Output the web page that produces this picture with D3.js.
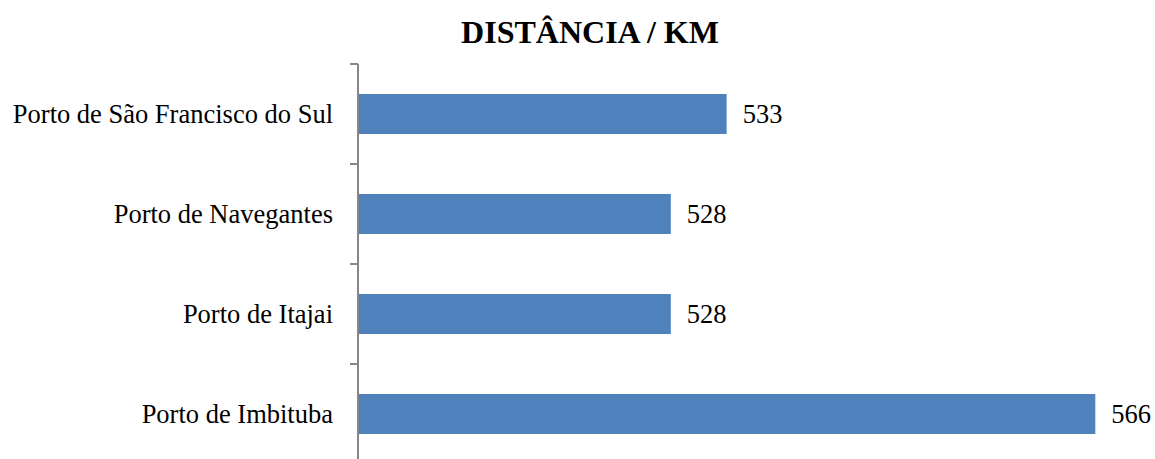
<!DOCTYPE html>
<html><head><meta charset="utf-8">
<script src="https://d3js.org/d3.v7.min.js"></script>
<style>body{margin:0;background:#fff;}svg{display:block;}</style>
</head><body>
<script>
const categories = ["Porto de São Francisco do Sul","Porto de Navegantes","Porto de Itajai","Porto de Imbituba"];
const values = [533, 528, 528, 566];
const title = "DISTÂNCIA / KM";

const W = 1155, H = 459;
const svg = d3.select("body").append("svg").attr("width", W).attr("height", H);
const font = "'Liberation Serif','Times New Roman',serif";

const x = d3.scaleLinear().domain([500, 570]).range([358, 1140]);
const y = d3.scaleBand().domain(categories).range([64, 464]).paddingInner(0.6).paddingOuter(0.3);

svg.append("text").attr("x", 590).attr("y", 43).attr("text-anchor", "middle")
  .attr("font-family", font).attr("font-weight", "bold").attr("font-size", 32).text(title);

svg.selectAll("rect.bar").data(values).enter().append("rect")
  .attr("x", x(500) + 1).attr("y", (d, i) => y(categories[i]))
  .attr("width", d => x(d) - x(500) - 1).attr("height", y.bandwidth())
  .attr("fill", "#4F81BD");

svg.selectAll("text.val").data(values).enter().append("text")
  .attr("x", d => x(d) + 16).attr("y", (d, i) => y(categories[i]) + y.bandwidth() / 2)
  .attr("dy", "0.33em").attr("font-family", font).attr("font-size", 26.5).attr("fill", "#000")
  .text(d => d);

// category axis
const g = svg.append("g");
g.append("line").attr("x1", 358).attr("x2", 358).attr("y1", 64).attr("y2", 464)
  .attr("stroke", "#868686").attr("stroke-width", 2);
const tickYs = d3.range(categories.length + 1).map(i => 64 + i * 100);
g.selectAll("line.tick").data(tickYs).enter().append("line")
  .attr("x1", 350).attr("x2", 358).attr("y1", d => d).attr("y2", d => d)
  .attr("stroke", "#868686").attr("stroke-width", 2);
g.selectAll("text.cat").data(categories).enter().append("text")
  .attr("x", 333).attr("y", d => y(d) + y.bandwidth() / 2).attr("dy", "0.33em")
  .attr("text-anchor", "end").attr("font-family", font).attr("font-size", 26.5).text(d => d);
</script>
</body></html>
